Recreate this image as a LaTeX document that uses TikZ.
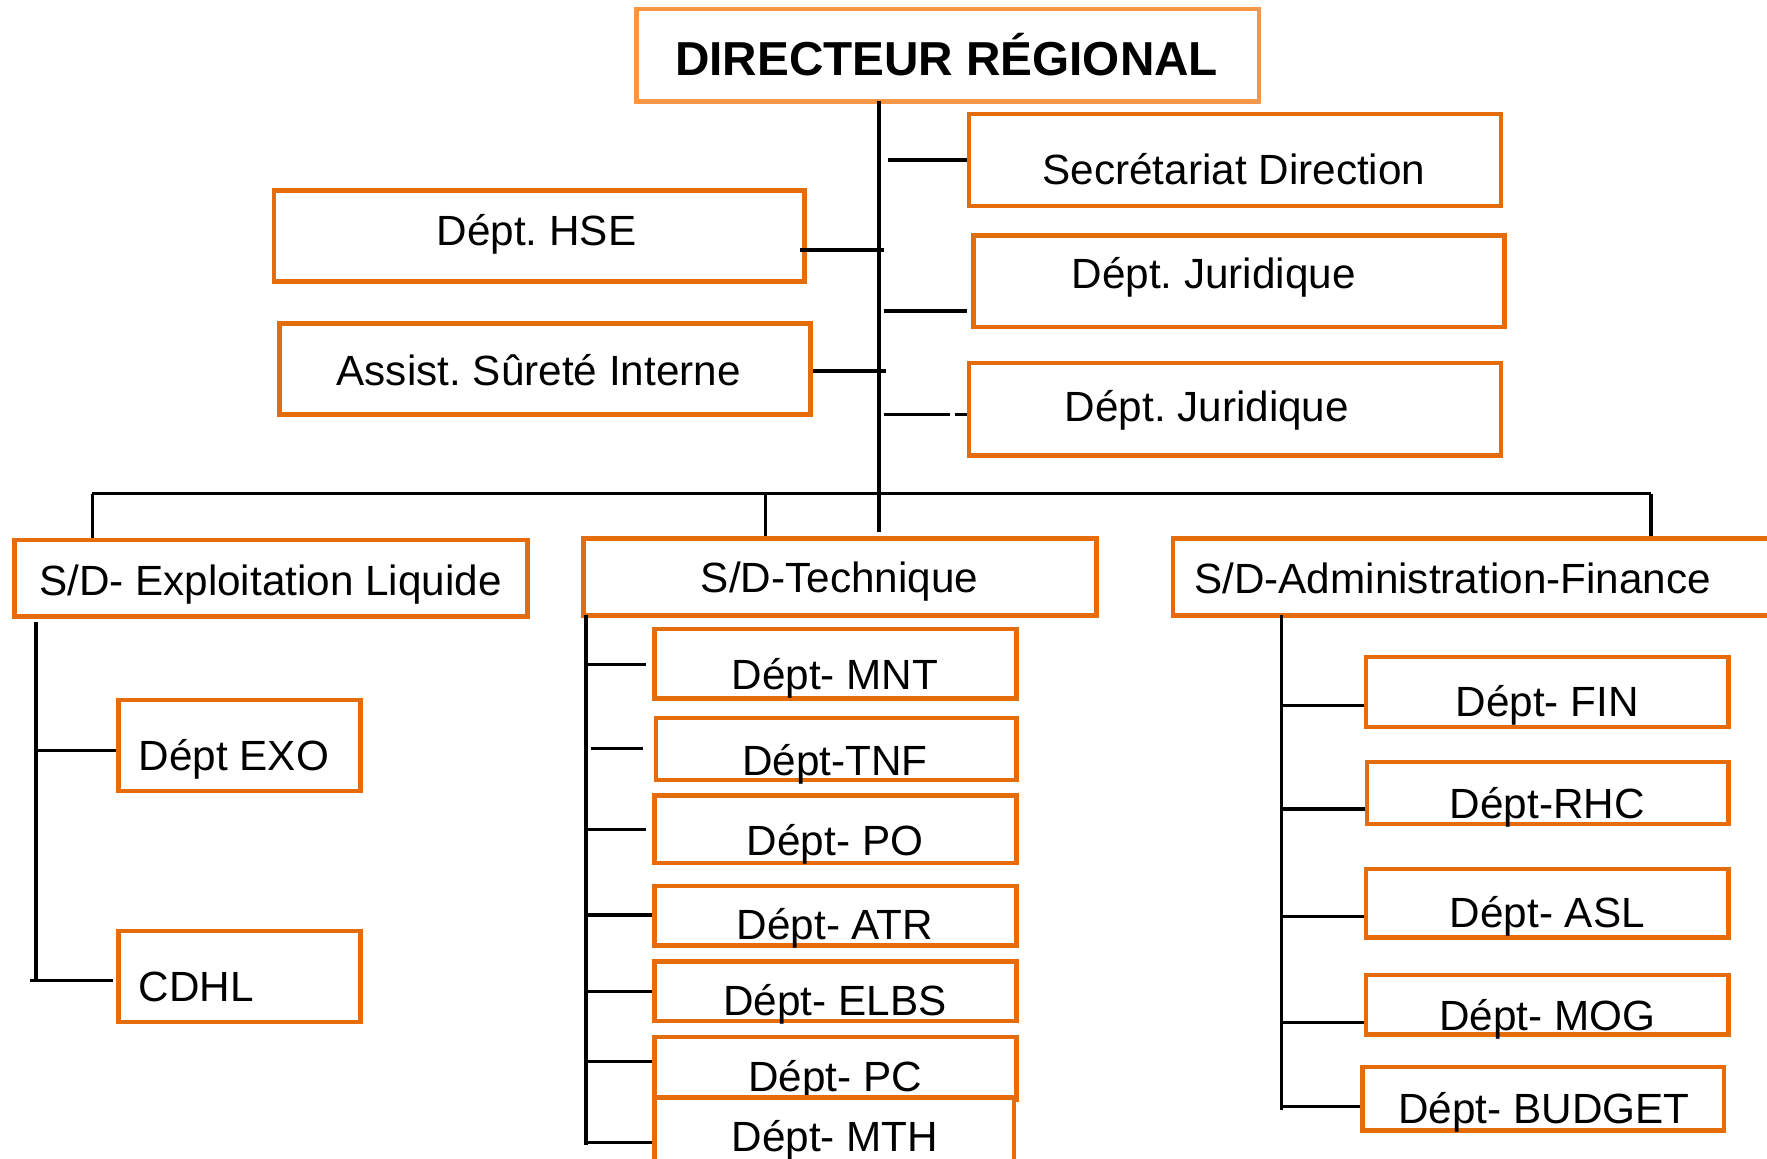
\documentclass[tikz,border=0pt]{standalone}
\usepackage{fontspec}
\setmainfont{Liberation Sans}
\frenchspacing
\definecolor{org}{HTML}{E46C0A}
\definecolor{lorg}{HTML}{F79646}
\tikzset{
  box/.style={draw=org, line width=4pt, inner sep=0pt, fill=none},
  txt/.style={font=\fontsize{37.5}{40}\selectfont, inner sep=0pt, anchor=base},
  ln/.style={line width=2.8pt, black},
  thick ln/.style={line width=3.3pt, black}
}
\begin{document}
\begin{tikzpicture}[x=1pt,y=-1pt]
\useasboundingbox (0,0) rectangle (1568,1028);
\clip (0,0) rectangle (1568,1028);
\fill[white] (0,0) rectangle (1568,1028);

% top
\node[box, draw=lorg, minimum width=552pt, minimum height=82pt] (dir) at (841,49) {};
\node[txt, font=\fontsize{42.3}{46}\selectfont\bfseries] (dirT) at (840,67) {DIRECTEUR RÉGIONAL};

\node[box, minimum width=472pt, minimum height=82pt] (sec) at (1096,142) {};
\node[txt] (secT) at (1095,164) {Secrétariat Direction};
\node[box, minimum width=471pt, minimum height=81pt] (jur1) at (1099.5,249.5) {};
\node[txt] (jur1T) at (1077,256) {Dépt. Juridique};
\node[box, minimum width=472pt, minimum height=82pt] (jur2) at (1096,363) {};
\node[txt] (jur2T) at (1071,374) {Dépt. Juridique};
\node[box, minimum width=471pt, minimum height=81pt] (hse) at (478.5,209.5) {};
\node[txt] (hseT) at (476,218) {Dépt. HSE};
\node[box, minimum width=471pt, minimum height=81pt] (ass) at (483.5,327.5) {};
\node[txt] (assT) at (478,342) {Assist. Sûreté Interne};

% sub-directions
\node[box, minimum width=455pt, minimum height=68pt] (sdl) at (240.5,513) {};
\node[txt] (sdlT) at (240,528) {S/D- Exploitation Liquide};
\node[box, minimum width=455pt, minimum height=68pt] (sdt) at (745.5,512) {};
\node[txt] (sdtT) at (745,526) {S/D-Technique};
\node[box, minimum width=559pt, minimum height=68pt] (sda) at (1320.5,512) {};
\node[txt] (sdaT) at (1289,527) {S/D-Administration-Finance};

% left column
\node[box, minimum width=215pt, minimum height=81pt] (exo) at (212.5,661.5) {};
\node[txt, anchor=base west] (exoT) at (123,684) {Dépt EXO};
\node[box, minimum width=215pt, minimum height=81pt] (cdhl) at (212.5,866.5) {};
\node[txt, anchor=base west] (cdhlT) at (123,889) {CDHL};

% middle column
\node[box, minimum width=321pt, minimum height=62pt] (mnt) at (741.5,589) {};
\node[txt] (mntT) at (741,612) {Dépt- MNT};
\node[box, minimum width=320pt, minimum height=55pt] (tnf) at (742,664.5) {};
\node[txt] (tnfT) at (741,688) {Dépt-TNF};
\node[box, minimum width=321pt, minimum height=60pt] (po) at (741.5,736) {};
\node[txt] (poT) at (741,759) {Dépt- PO};
\node[box, minimum width=321pt, minimum height=53pt] (atr) at (741.5,812.5) {};
\node[txt] (atrT) at (741,834) {Dépt- ATR};
\node[box, minimum width=321pt, minimum height=53pt] (elbs) at (741.5,879.5) {};
\node[txt] (elbsT) at (741,901) {Dépt- ELBS};
\node[box, minimum width=321pt, minimum height=56pt] (pc) at (741.5,948) {};
\node[txt] (pcT) at (741,969) {Dépt- PC};
\fill[white] (581,974) rectangle (900,1040);
\node[box, minimum width=319pt, minimum height=66pt] (mth) at (740.5,1007) {};
\node[txt] (mthT) at (741,1022) {Dépt- MTH};

% right column
\node[box, minimum width=322pt, minimum height=62pt] (fin) at (1373,614) {};
\node[txt] (finT) at (1373,636) {Dépt- FIN};
\node[box, minimum width=321pt, minimum height=55pt] (rhc) at (1373.5,703.5) {};
\node[txt] (rhcT) at (1373,726) {Dépt-RHC};
\node[box, minimum width=322pt, minimum height=61pt] (asl) at (1373,801.5) {};
\node[txt] (aslT) at (1373,823) {Dépt- ASL};
\node[box, minimum width=322pt, minimum height=53pt] (mog) at (1373,891.5) {};
\node[txt] (mogT) at (1373,914) {Dépt- MOG};
\node[box, minimum width=321pt, minimum height=56pt] (bud) at (1369.5,975) {};
\node[txt] (budT) at (1370,997) {Dépt- BUDGET};

% main spine and bus
\coordinate (m0) at (780,90);
\coordinate (m1) at (780,472);
\draw[thick ln] (m0) -- (m1);
\coordinate (b0) at (82,438);
\coordinate (b1) at (1465,438);
\draw[ln] (b0) -- (b1);
\draw[ln] (b0) -- (b0 |- sdl.north);
\draw[ln] (679,438) coordinate (bt) -- (bt |- sdt.north);
\draw[ln] (b1) -- (b1 |- sda.north);

% ticks near spine
\coordinate (s1) at (788,142);
\draw[ln] (s1) -- (sec.west |- s1);
\coordinate (s2) at (784,276);
\draw[ln] (s2) -- (858,276) coordinate (s2e);
\coordinate (s3) at (784,368);
\draw[ln, dash pattern=on 59pt off 4pt on 20pt] (s3) -- (jur2.west |- s3);
\coordinate (s4) at (784,222);
\draw[thick ln] (s4) -- (710,222) coordinate (s4e);
\coordinate (s5) at (786,329);
\draw[thick ln] (s5) -- (ass.east |- s5);

% left column lines
\coordinate (l0) at (32,552);
\coordinate (l1) at (32,870);
\draw[ln] (l0) -- (l1);
\draw[ln] (32,666) coordinate (l2) -- (exo.west |- l2);
\draw[ln] (27,870) coordinate (l3) -- (100,870) coordinate (l3e);

% middle column lines
\coordinate (c0) at (520,546);
\coordinate (c1) at (520,1016);
\draw[ln] (c0) -- (c1);
\draw[ln] (522,590) coordinate (t1) -- (573,590) coordinate (t1e);
\draw[ln] (524,664) coordinate (t2) -- (571,664) coordinate (t2e);
\draw[ln] (522,736) coordinate (t3) -- (573,736) coordinate (t3e);
\draw[ln] (522,812) coordinate (t4) -- (atr.west |- t4);
\draw[ln] (522,880) coordinate (t5) -- (elbs.west |- t5);
\draw[ln] (522,942) coordinate (t6) -- (pc.west |- t6);
\draw[ln] (522,1014) coordinate (t7) -- (mth.west |- t7);

% right column lines
\coordinate (r0) at (1137,546);
\coordinate (r1) at (1137,985);
\draw[ln] (r0) -- (r1);
\draw[ln] (1137,626) coordinate (u1) -- (fin.west |- u1);
\draw[thick ln] (1137,718) coordinate (u2) -- (rhc.west |- u2);
\draw[ln] (1137,813) coordinate (u3) -- (asl.west |- u3);
\draw[ln] (1137,907) coordinate (u4) -- (mog.west |- u4);
\draw[ln] (1137,982) coordinate (u5) -- (bud.west |- u5);
\end{tikzpicture}
\end{document}
